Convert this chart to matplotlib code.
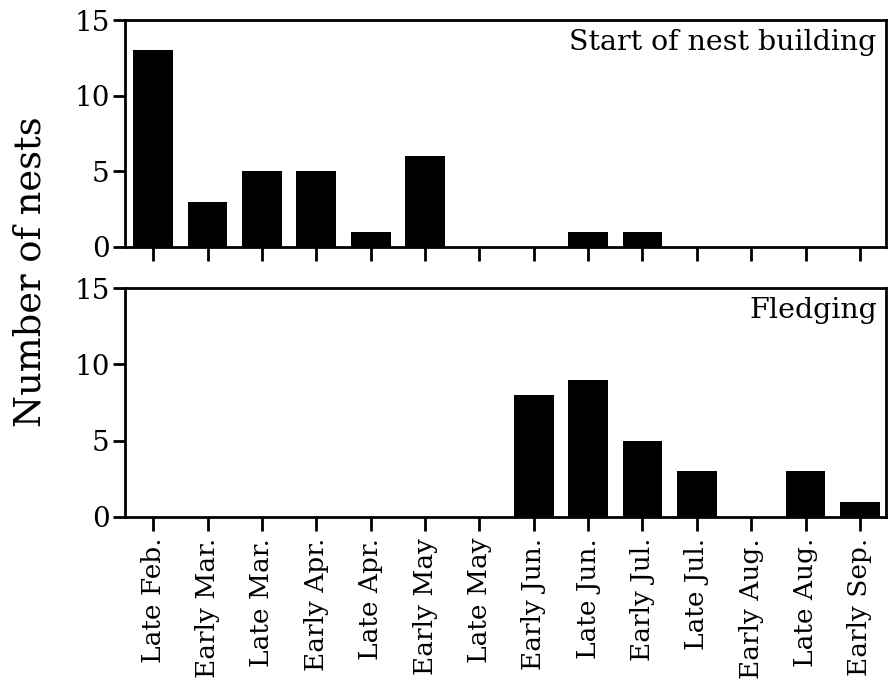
import matplotlib.pyplot as plt
import numpy as np

periods = ["Late Feb.", "Early Mar.", "Late Mar.", "Early Apr.", "Late Apr.",
           "Early May", "Late May", "Early Jun.", "Late Jun.", "Early Jul.",
           "Late Jul.", "Early Aug.", "Late Aug.", "Early Sep."]
nest_building = [13, 3, 5, 5, 1, 6, 0, 0, 1, 1, 0, 0, 0, 0]
fledging = [0, 0, 0, 0, 0, 0, 0, 8, 9, 5, 3, 0, 3, 1]
panel_titles = ["Start of nest building", "Fledging"]
y_ticks = [0, 5, 10, 15]

plt.rcParams.update({
    "font.family": ["DejaVu Serif"],
    "axes.linewidth": 2.0,
})

fig = plt.figure(figsize=(8.89, 6.93), dpi=100)
ax_top = fig.add_axes([0.1406, 0.6436, 0.856, 0.3275])
ax_bot = fig.add_axes([0.1406, 0.2540, 0.856, 0.3304])

x = np.arange(len(periods))
for ax, vals, title in [(ax_top, nest_building, panel_titles[0]),
                        (ax_bot, fledging, panel_titles[1])]:
    ax.bar(x, vals, width=0.73, color="black", zorder=3)
    ax.set_xlim(-0.52, len(periods) - 0.52)
    ax.set_ylim(0, 15)
    ax.set_yticks(y_ticks)
    ax.set_xticks(x)
    ax.tick_params(axis="y", direction="out", length=9, width=2, labelsize=20, pad=2)
    ax.tick_params(axis="x", direction="out", length=10, width=2, labelsize=19, pad=5)
    ax.text(0.988, 0.96, title, transform=ax.transAxes, ha="right", va="top",
            fontsize=20.5)

ax_top.tick_params(axis="x", labelbottom=False)
ax_bot.set_xticklabels(periods, rotation=90)

fig.text(0.034, 0.608, "Number of nests", rotation=90, ha="center", va="center",
         fontsize=26.5)

fig.savefig("out.png", dpi=100)
